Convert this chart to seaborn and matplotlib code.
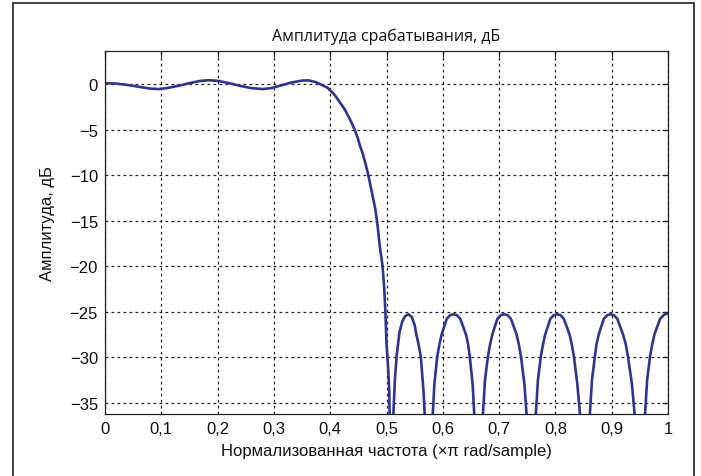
import numpy as np
import pandas as pd
import matplotlib
matplotlib.use("Agg")
import matplotlib.pyplot as plt
from matplotlib.lines import Line2D
from matplotlib.ticker import FixedLocator, FuncFormatter
import seaborn as sns

# Magnitude response of the low-pass filter (normalized frequency, dB).
# Points far below the axis floor mark the stopband nulls.
freq = [
    0.000, 0.020, 0.040, 0.060, 0.080, 0.095, 0.110, 0.130, 0.150, 0.170,
    0.185, 0.200, 0.220, 0.240, 0.260, 0.280, 0.295, 0.310, 0.330, 0.350,
    0.362, 0.375, 0.385, 0.395, 0.405, 0.411, 0.417, 0.425, 0.432, 0.438,
    0.444, 0.449, 0.453, 0.458, 0.462, 0.465, 0.468, 0.471, 0.474, 0.477,
    0.480, 0.484, 0.488, 0.493, 0.496, 0.498, 0.500, 0.503, 0.505, 0.5085,
    0.512, 0.515, 0.518, 0.523, 0.528, 0.533, 0.539, 0.545, 0.550, 0.553,
    0.557, 0.561, 0.566, 0.568, 0.575,
    0.582, 0.585, 0.590, 0.594, 0.598, 0.607, 0.613, 0.619, 0.625, 0.631,
    0.641, 0.645, 0.648, 0.653, 0.656, 0.663,
    0.671, 0.675, 0.680, 0.684, 0.688, 0.697, 0.703, 0.709, 0.715, 0.721,
    0.731, 0.735, 0.739, 0.745, 0.749, 0.757,
    0.765, 0.769, 0.774, 0.778, 0.782, 0.791, 0.797, 0.803, 0.809, 0.815,
    0.825, 0.829, 0.833, 0.839, 0.844, 0.852,
    0.861, 0.865, 0.870, 0.873, 0.877, 0.886, 0.892, 0.898, 0.904, 0.910,
    0.920, 0.925, 0.929, 0.936, 0.941, 0.950,
    0.959, 0.963, 0.968, 0.972, 0.976, 0.986, 0.993, 1.000,
]
magnitude_db = [
    0.10, 0.05, -0.10, -0.30, -0.50, -0.55, -0.45, -0.20, 0.10, 0.35,
    0.42, 0.35, 0.10, -0.20, -0.45, -0.55, -0.45, -0.20, 0.15, 0.38,
    0.40, 0.20, -0.10, -0.40, -1.00, -1.45, -2.00, -2.70, -3.50, -4.25,
    -5.10, -5.95, -6.80, -7.70, -8.60, -9.30, -10.1, -11.0, -11.9, -12.8,
    -13.7, -15.5, -17.8, -20.0, -22.5, -25.0, -28.5, -31.3, -33.8, -50.0,
    -36.5, -32.4, -29.9, -27.3, -26.1, -25.5, -25.3, -25.6, -26.5, -27.5,
    -28.6, -30.0, -34.0, -36.5, -50.0,
    -36.5, -33.0, -30.0, -28.6, -27.5, -25.8, -25.4, -25.3, -25.4, -25.8,
    -27.5, -28.6, -30.0, -33.0, -36.5, -50.0,
    -36.5, -32.5, -30.0, -28.6, -27.5, -25.8, -25.4, -25.3, -25.4, -25.8,
    -27.5, -28.6, -30.0, -33.0, -36.5, -50.0,
    -36.5, -32.5, -30.0, -28.6, -27.5, -25.8, -25.4, -25.3, -25.4, -25.8,
    -27.5, -28.6, -30.0, -33.0, -36.5, -50.0,
    -36.5, -32.5, -30.0, -28.6, -27.5, -25.8, -25.4, -25.3, -25.4, -25.8,
    -27.5, -28.6, -30.0, -33.0, -36.5, -50.0,
    -36.5, -32.5, -30.0, -28.6, -27.5, -25.8, -25.35, -25.2,
]

x_ticks = [0.0, 0.1, 0.2, 0.3, 0.4, 0.5, 0.6, 0.7, 0.8, 0.9, 1.0]
y_ticks = [0, -5, -10, -15, -20, -25, -30, -35]

title_text = "Амплитуда срабатывания, дБ"
x_label = "Нормализованная частота (×π rad/sample)"
y_label = "Амплитуда, дБ"

sns.set_theme(style="white")
plt.rcParams["font.family"] = ["Liberation Sans", "DejaVu Sans"]
plt.rcParams["axes.unicode_minus"] = True

df = pd.DataFrame({"f": freq, "db": magnitude_db})

fig = plt.figure(figsize=(7.01, 4.77), dpi=100)
W, H = 701, 477
ax = fig.add_axes([105 / W, 1 - 415 / H, (668 - 105) / W, (415 - 52) / H])

sns.lineplot(data=df, x="f", y="db", ax=ax, color="#2c3592",
             linewidth=1.9, sort=False, estimator=None)

ax.set_xlim(0, 1)
ax.set_ylim(-36.26, 3.63)
ax.xaxis.set_major_locator(FixedLocator(x_ticks))
ax.yaxis.set_major_locator(FixedLocator(y_ticks))


def comma_fmt(v, _pos):
    if abs(v - round(v)) < 1e-9:
        return f"{int(round(v))}".replace("-", "\u2212")
    return f"{v:.1f}".replace(".", ",")


ax.xaxis.set_major_formatter(FuncFormatter(comma_fmt))
ax.yaxis.set_major_formatter(FuncFormatter(comma_fmt))

ax.grid(True, color="#222222", linestyle=(0, (2.2, 2.6)), linewidth=0.9)
ax.set_axisbelow(True)
for s in ax.spines.values():
    s.set_color("#222222")
    s.set_linewidth(0.9)
    s.set_visible(True)

ax.tick_params(axis="both", which="major", direction="in", length=4,
               width=0.9, color="#222222", top=True, right=True,
               labelsize=12, labelcolor="#111111")
ax.tick_params(axis="x", pad=5)
ax.tick_params(axis="y", pad=5)

ax.set_xlabel(x_label, fontsize=12, color="#111111", labelpad=5)
ax.set_ylabel(y_label, fontsize=12, color="#111111")
ax.yaxis.set_label_coords(-0.088, 0.5275)
ax.set_title(title_text, fontsize=11.5, color="#111111",
             family=["Open Sans", "DejaVu Sans"], pad=8)

# page border around the figure
frame_kw = dict(color="#333333", linewidth=1.3, transform=fig.transFigure)
fig.add_artist(Line2D([13 / W, 13 / W], [1 - 4 / H, 0], **frame_kw))
fig.add_artist(Line2D([694 / W, 694 / W], [1 - 4 / H, 0], **frame_kw))
fig.add_artist(Line2D([13 / W, 694 / W], [1 - 4 / H, 1 - 4 / H], **frame_kw))

fig.savefig("out.png", dpi=100)
